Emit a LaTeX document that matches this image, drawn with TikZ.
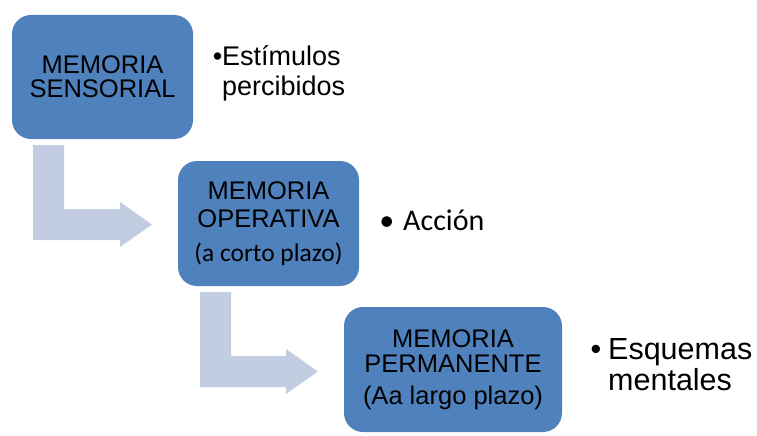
\documentclass[tikz,border=0pt]{standalone}
\usepackage{fontspec}
\setmainfont{Liberation Sans}
\newfontfamily\calibri{Carlito}
\definecolor{boxblue}{RGB}{79,129,189}
\definecolor{arrowgray}{RGB}{195,205,226}

\begin{document}
\begin{tikzpicture}[x=1pt,y=-1pt,
  memo/.style={fill=boxblue,rounded corners=19pt,minimum height=125pt,
    inner sep=0pt,align=center,font=\fontsize{25.5}{24}\selectfont},
  bent/.style={fill=arrowgray},
  point/.style={anchor=base west,inner sep=0pt,align=left}]
\useasboundingbox (0,0) rectangle (757,436);

% ---------------- bent arrows ----------------
\fill[bent] (33,145) -- (64,145) -- (64,209) -- (120,209) -- (120,202)
  -- (152,224.5) -- (120,247) -- (120,240) -- (33,240) -- cycle;
\fill[bent] (200,292) -- (231,292) -- (231,356) -- (286,356) -- (286,349)
  -- (318,371.5) -- (286,394) -- (286,387) -- (200,387) -- cycle;

% ---------------- memory boxes ----------------
\node[memo,minimum width=181pt,minimum height=124pt] (sens) at (102.5,77)
  {MEMORIA\\SENSORIAL};
\node[memo,minimum width=181pt] (oper) at (268.5,223.5)
  {MEMORIA\\[4pt]OPERATIVA\\[10pt]{\calibri (a corto plazo)}};
\node[memo,minimum width=218pt] (perm) at (453,369.5)
  {MEMORIA\\[1pt]PERMANENTE\\[8pt](Aa largo plazo)};

% ---------------- bullets ----------------
% (base of a two-line node is its last line)
\node[point,font=\fontsize{27}{29}\selectfont] (estim) at (222,95)
  {\llap{•}Estímulos\\percibidos};
\node[point,font=\calibri\fontsize{30}{30}\selectfont] (accion) at (403,230)
  {\llap{•\hspace{9pt}}Acción};
\node[point,font=\fontsize{30.5}{31}\selectfont] (esq) at (608,390)
  {\llap{•\hspace{7pt}}Esquemas\\mentales};

\end{tikzpicture}
\end{document}
